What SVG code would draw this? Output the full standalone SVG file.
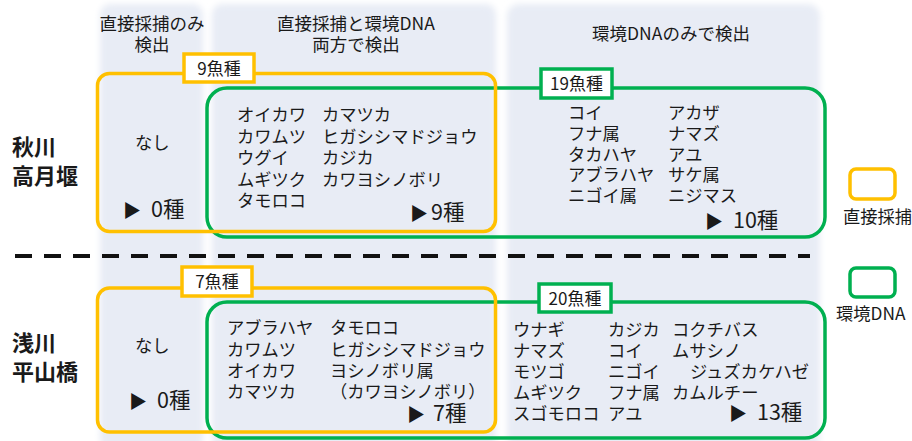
<svg xmlns="http://www.w3.org/2000/svg" width="912" height="441" viewBox="0 0 912 441">
<defs>
<filter id="soft" x="-10%" y="-10%" width="120%" height="120%"><feGaussianBlur stdDeviation="3"/></filter>
<pattern id="stripes" width="4" height="3" patternUnits="userSpaceOnUse"><rect width="4" height="3" fill="#EBEFF8"/><rect y="2" width="4" height="1" fill="#E1E6F0"/></pattern>
<style>
text{font-family:"Noto Sans CJK JP","Noto Sans",sans-serif;fill:#1a1a1a}
.h{font-size:17.5px;text-anchor:middle}
.t{font-size:17.3px}
.big{font-size:21.5px}
.tri{font-size:18px}
.row{font-size:22px;font-weight:bold}
.lbl{font-size:17px;text-anchor:middle}
.yb{fill:none;stroke:#FFC000;stroke-width:3.5}
.gb{fill:none;stroke:#00B050;stroke-width:3.5}
.yl{fill:#fff;stroke:#FFC000;stroke-width:3.5}
.gl{fill:#fff;stroke:#00B050;stroke-width:3.5}
</style>
</defs>
<rect width="912" height="441" fill="#fff"/>
<g id="columns" filter="url(#soft)">
<rect x="100" y="4" width="103" height="445" rx="10" fill="url(#stripes)"/>
<rect x="212" y="4" width="284" height="445" rx="10" fill="url(#stripes)"/>
<rect x="507" y="4" width="313" height="445" rx="12" fill="url(#stripes)"/>
</g>
<g id="headers">
<text class="h" x="152" y="30">直接採捕のみ</text>
<text class="h" x="152" y="51">検出</text>
<text class="h" x="356" y="30">直接採捕と環境DNA</text>
<text class="h" x="356" y="51">両方で検出</text>
<text class="h" x="671" y="40">環境DNAのみで検出</text>
</g>
<g id="row-labels">
<text class="row" x="12" y="155">秋川</text>
<text class="row" x="12" y="184">高月堰</text>
<text class="row" x="12" y="351">浅川</text>
<text class="row" x="12" y="380">平山橋</text>
</g>
<g id="connectors">
<line x1="15" y1="256" x2="810" y2="256" stroke="#111" stroke-width="4" stroke-dasharray="17 12"/>
</g>
<g id="akigawa-edna">
<rect class="gb" x="207" y="88" width="618" height="149" rx="20"/>
</g>
<g id="akigawa-direct">
<rect class="yb" x="97.5" y="73.5" width="398" height="158" rx="12"/>
</g>
<g id="asakawa-edna">
<rect class="gb" x="207" y="302" width="618" height="136" rx="20"/>
</g>
<g id="asakawa-direct">
<rect class="yb" x="97.5" y="288" width="398" height="144" rx="12"/>
</g>
<g id="label-9">
<rect class="yl" x="184" y="54" width="70" height="28"/>
<text class="lbl" x="219" y="75">9魚種</text>
</g>
<g id="label-19">
<rect class="gl" x="541" y="69" width="71" height="29"/>
<text class="lbl" x="576.5" y="90">19魚種</text>
</g>
<g id="label-7">
<rect class="yl" x="182" y="267" width="70" height="29"/>
<text class="lbl" x="217" y="288">7魚種</text>
</g>
<g id="label-20">
<rect class="gl" x="539" y="284" width="72" height="28"/>
<text class="lbl" x="575" y="305">20魚種</text>
</g>
<g id="akigawa-only-direct">
<text class="t" x="135" y="149">なし</text>
<text x="123" y="217"><tspan class="tri">▶</tspan><tspan class="big" x="151">0種</tspan></text>
</g>
<g id="akigawa-both">
<text class="t" x="237" y="121">オイカワ</text>
<text class="t" x="237" y="143">カワムツ</text>
<text class="t" x="237" y="164">ウグイ</text>
<text class="t" x="237" y="186">ムギツク</text>
<text class="t" x="237" y="207">タモロコ</text>
<text class="t" x="322" y="121">カマツカ</text>
<text class="t" x="322" y="143">ヒガシシマドジョウ</text>
<text class="t" x="322" y="164">カジカ</text>
<text class="t" x="322" y="186">カワヨシノボリ</text>
<text x="410" y="220"><tspan class="tri">▶</tspan><tspan class="big" x="431">9種</tspan></text>
</g>
<g id="akigawa-edna-only">
<text class="t" x="568" y="119">コイ</text>
<text class="t" x="568" y="140">フナ属</text>
<text class="t" x="568" y="161">タカハヤ</text>
<text class="t" x="568" y="181">アブラハヤ</text>
<text class="t" x="568" y="202">ニゴイ属</text>
<text class="t" x="668" y="119">アカザ</text>
<text class="t" x="668" y="140">ナマズ</text>
<text class="t" x="668" y="161">アユ</text>
<text class="t" x="668" y="181">サケ属</text>
<text class="t" x="668" y="202">ニジマス</text>
<text x="705" y="228"><tspan class="tri">▶</tspan><tspan class="big" x="733">10種</tspan></text>
</g>
<g id="asakawa-only-direct">
<text class="t" x="135" y="352">なし</text>
<text x="129" y="408"><tspan class="tri">▶</tspan><tspan class="big" x="157">0種</tspan></text>
</g>
<g id="asakawa-both">
<text class="t" x="227" y="334">アブラハヤ</text>
<text class="t" x="227" y="356">カワムツ</text>
<text class="t" x="227" y="377">オイカワ</text>
<text class="t" x="227" y="398">カマツカ</text>
<text class="t" x="330" y="334">タモロコ</text>
<text class="t" x="330" y="356">ヒガシシマドジョウ</text>
<text class="t" x="330" y="377">ヨシノボリ属</text>
<text class="t" x="330" y="398">（カワヨシノボリ）</text>
<text x="407" y="421"><tspan class="tri">▶</tspan><tspan class="big" x="433">7種</tspan></text>
</g>
<g id="asakawa-edna-only">
<text class="t" x="513" y="336">ウナギ</text>
<text class="t" x="513" y="357">ナマズ</text>
<text class="t" x="513" y="378">モツゴ</text>
<text class="t" x="513" y="399">ムギツク</text>
<text class="t" x="513" y="420">スゴモロコ</text>
<text class="t" x="608" y="336">カジカ</text>
<text class="t" x="608" y="357">コイ</text>
<text class="t" x="608" y="378">ニゴイ</text>
<text class="t" x="608" y="399">フナ属</text>
<text class="t" x="608" y="420">アユ</text>
<text class="t" x="672" y="336">コクチバス</text>
<text class="t" x="672" y="357">ムサシノ</text>
<text class="t" x="690" y="378">ジュズカケハゼ</text>
<text class="t" x="672" y="399">カムルチー</text>
<text x="729" y="420"><tspan class="tri">▶</tspan><tspan class="big" x="757">13種</tspan></text>
</g>
<g id="legend-direct">
<rect class="yb" x="850" y="169" width="45" height="30" rx="6"/>
<text class="t" x="843" y="223">直接採捕</text>
</g>
<g id="legend-edna">
<rect class="gb" x="850" y="268" width="45" height="29" rx="6"/>
<text class="t" x="836" y="320">環境DNA</text>
</g>
</svg>
